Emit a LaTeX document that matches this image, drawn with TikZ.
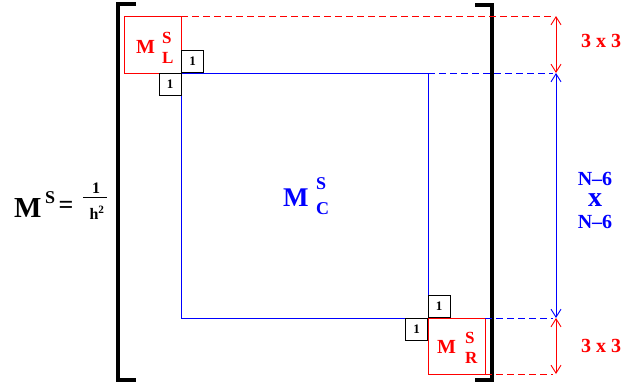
\documentclass[tikz,border=0pt]{standalone}
\usepackage{fontspec}
\setmainfont{Liberation Serif}
\usetikzlibrary{arrows.meta}
\definecolor{myred}{RGB}{255,0,0}
\definecolor{myblue}{RGB}{0,0,255}
\begin{document}
\begin{tikzpicture}[x=1pt,y=-1pt,
  fs/.style={font=\fontsize{#1}{#1}\selectfont\bfseries},
  onebox/.style={draw=black,line width=0.9pt,minimum width=22pt,minimum height=22pt,inner sep=0pt,fs=13},
  txt/.style={inner sep=0pt,anchor=base west},
  dashln/.style={line width=0.9pt,dash pattern=on 7pt off 4pt},
  dimarrow/.style={line width=0.9pt,{Straight Barb[length=8pt,width=10pt]}-{Straight Barb[length=8pt,width=10pt]}},
  bracket/.style={line width=4pt,line join=miter}]
\useasboundingbox (0,0) rectangle (626,389);
% brackets
\draw[bracket] (136,4) -- (118,4) -- (118,380) -- (136,380);
\draw[bracket] (475,5) -- (492,5) -- (492,380) -- (475,380);
% main blocks
\draw[myblue,line width=0.9pt] (181,73) rectangle (428,318);
\draw[myred,line width=0.9pt] (124,16) rectangle (181,73);
\draw[myred,line width=0.9pt] (428,318) rectangle (485,374);
% coordinates
\coordinate (t1) at (181,16);
\coordinate (t1e) at (553,16);
\coordinate (t2) at (428,73);
\coordinate (t2e) at (553,73);
\coordinate (t3) at (485,318);
\coordinate (t3e) at (553,318);
\coordinate (t4) at (485,374);
\coordinate (t4e) at (553,374);
\coordinate (a1) at (556,16);
\coordinate (a2) at (556,73);
\coordinate (a3) at (556,318);
\coordinate (a4) at (556,374);
% dashed guide lines
\draw[dashln,myred] (t1) -- (t1e);
\draw[dashln,myblue] (t2) -- (t2e);
\draw[dashln,myblue] (t3) -- (t3e);
\draw[dashln,myred] (t4) -- (t4e);
% dimension arrows
\draw[dimarrow,myred] (a1) -- (a2);
\draw[dimarrow,myblue] (a2) -- (a3);
\draw[dimarrow,myred] (a3) -- (a4);
% small boxes
\node[onebox] (b1) at (192.5,61.5) {1};
\node[onebox] (b2) at (170,84.5) {1};
\node[onebox] (b3) at (439,306.5) {1};
\node[onebox] (b4) at (416.5,329) {1};
% block labels
\node[txt,fs=20,myred] (mlM) at (136,53) {M};
\node[txt,fs=17,myred] (mlS) at (162,43) {S};
\node[txt,fs=17,myred] (mlL) at (162,63) {L};
\node[txt,fs=27,myblue] (mcM) at (283,206) {M};
\node[txt,fs=18,myblue] (mcS) at (316,189) {S};
\node[txt,fs=18,myblue] (mcC) at (316,214) {C};
\node[txt,fs=20,myred] (mrM) at (437,353) {M};
\node[txt,fs=17,myred] (mrS) at (465,343) {S};
\node[txt,fs=17,myred] (mrR) at (465,363) {R};
% dimension labels
\node[fs=20,myred,inner sep=0pt] (d1) at (601,41) {3 x 3};
\node[fs=20,myred,inner sep=0pt] (d3) at (601,346) {3 x 3};
\node[myblue,inner sep=0pt,align=center,font=\fontsize{20}{21.5}\selectfont\bfseries] (d2) at (595,200)
  {N--6\\{\fontsize{28}{21.5}\selectfont x}\\N--6};
% left formula
\node[txt,fs=29] (fM) at (14,217) {M};
\node[txt,fs=18] (fS) at (45,203) {S};
\node[fs=26,inner sep=0pt] (feq) at (66,207) {=};
\node[fs=16,inner sep=0pt] (fone) at (96,188) {1};
\node[fs=16,inner sep=0pt] (fh) at (97,213) {h\textsuperscript{2}};
\coordinate (fb1) at (83,197);
\coordinate (fb2) at (107,197);
\draw[line width=0.9pt] (fb1) -- (fb2);
\end{tikzpicture}
\end{document}
